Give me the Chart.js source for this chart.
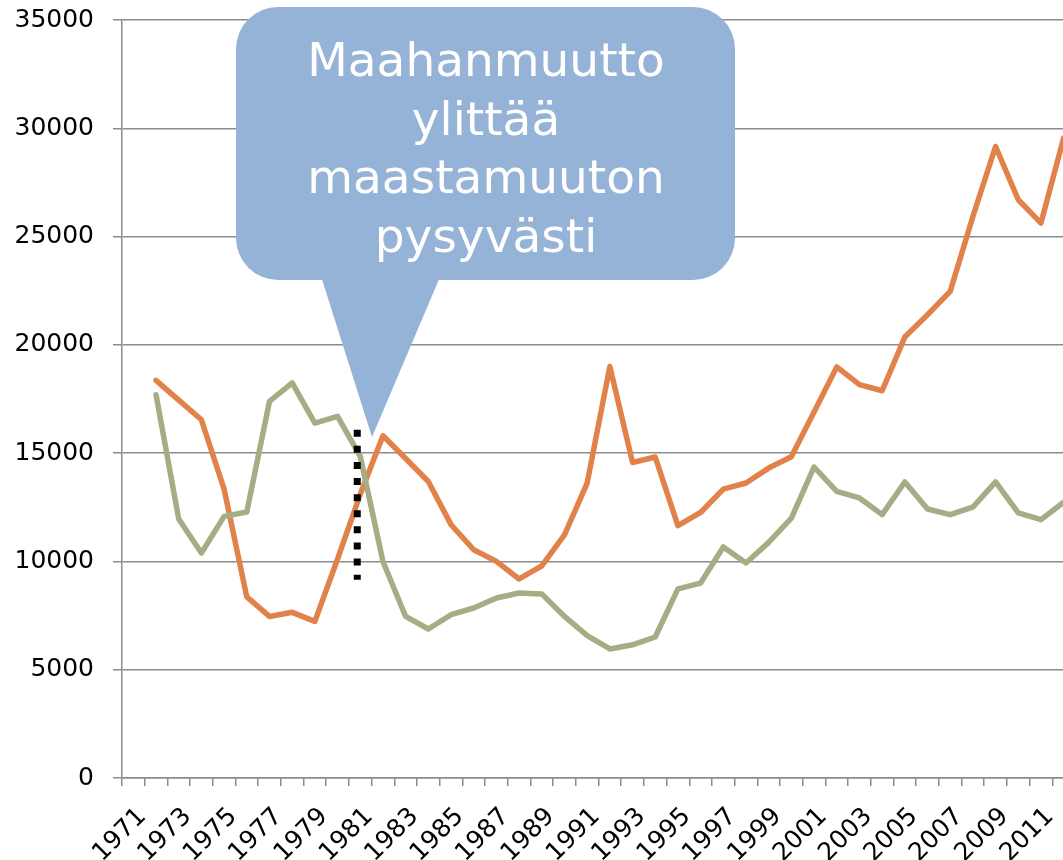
<!DOCTYPE html>
<html>
<head>
<meta charset="utf-8">
<script src="https://cdn.jsdelivr.net/npm/chart.js@4"></script>
<style>
  html, body { margin: 0; padding: 0; overflow: hidden; background: #fff; }
  #wrap { width: 1075px; height: 860px; }
  canvas { display: block; }
</style>
</head>
<body>
<div id="wrap"><canvas id="chart" width="1075" height="860"></canvas></div>
<script>
// vuodet 1971-2012 (1971 ilman arvoa)
const years = ['1971','1972','1973','1974','1975','1976','1977','1978','1979','1980',
  '1981','1982','1983','1984','1985','1986','1987','1988','1989','1990',
  '1991','1992','1993','1994','1995','1996','1997','1998','1999','2000',
  '2001','2002','2003','2004','2005','2006','2007','2008','2009','2010',
  '2011','2012']

// maahanmuutto (oranssi)
const maahanmuutto = [null, 18360, 17450, 16540, 13340, 8360, 7460, 7650, 7230, 10110,
  13100, 15800, 14750, 13690, 11700, 10540, 10000, 9190, 9800, 11230,
  13620, 19000, 14570, 14820, 11650, 12260, 13340, 13620, 14310, 14830,
  16900, 18980, 18160, 17880, 20360, 21390, 22470, 25930, 29160, 26700,
  25620, 29550]

// maastamuutto (vihreä)
const maastamuutto = [null, 17700, 11960, 10390, 12080, 12280, 17390, 18240, 16390, 16700,
  14850, 10000, 7460, 6880, 7540, 7850, 8310, 8540, 8500, 7460,
  6570, 5960, 6150, 6510, 8730, 9000, 10670, 9930, 10880, 12000,
  14360, 13230, 12930, 12160, 13670, 12420, 12160, 12510, 13670, 12240,
  11930, 12730]

const yTicks = [0, 5000, 10000, 15000, 20000, 25000, 30000, 35000]

// puhekupla + pisteviiva
const calloutLines = ['Maahanmuutto', 'ylittää', 'maastamuuton', 'pysyvästi']
const dotYear = '1981'
const dotTop = 16080
const dotBottom = 9150

const gridColor = '#8c8c8c'
const font = '"DejaVu Sans", Verdana, sans-serif'

const calloutPlugin = {
  id: 'callout',
  afterDraw(chart) {
    const ctx = chart.ctx
    const x = chart.scales.x
    const y = chart.scales.y

    // pisteviiva
    const dx = x.getPixelForValue(years.indexOf(dotYear)) - 3
    ctx.save()
    ctx.strokeStyle = '#000'
    ctx.lineWidth = 7
    ctx.setLineDash([7, 9.1])
    ctx.beginPath()
    ctx.moveTo(dx, y.getPixelForValue(dotTop))
    ctx.lineTo(dx, y.getPixelForValue(dotBottom))
    ctx.stroke()
    ctx.restore()

    // kupla
    const l = 236, t = 7, r = 735, b = 280, rad = 42
    ctx.save()
    ctx.fillStyle = '#95b3d7'
    ctx.beginPath()
    ctx.moveTo(l + rad, t)
    ctx.arcTo(r, t, r, b, rad)
    ctx.arcTo(r, b, l, b, rad)
    ctx.arcTo(l, b, l, t, rad)
    ctx.arcTo(l, t, r, t, rad)
    ctx.closePath()
    ctx.fill()
    ctx.beginPath()
    ctx.moveTo(319, 270)
    ctx.lineTo(443, 270)
    ctx.lineTo(372, 437)
    ctx.closePath()
    ctx.fill()

    ctx.fillStyle = '#fff'
    ctx.font = '47px ' + font
    ctx.textAlign = 'center'
    ctx.textBaseline = 'alphabetic'
    const base = [76, 135, 193, 252]
    calloutLines.forEach((s, i) => ctx.fillText(s, 486, base[i]))
    ctx.restore()
  }
}

const ctx = document.getElementById('chart').getContext('2d')
const myChart = new Chart(ctx, {
  type: 'line',
  data: {
    labels: years,
    datasets: [
      {
        label: 'Maastamuutto',
        data: maastamuutto,
        borderColor: '#a4ad84',
        borderWidth: 5.5,
        pointRadius: 0,
        tension: 0,
        borderJoinStyle: 'round',
        borderCapStyle: 'round'
      },
      {
        label: 'Maahanmuutto',
        data: maahanmuutto,
        borderColor: '#e0824a',
        borderWidth: 5.5,
        pointRadius: 0,
        tension: 0,
        borderJoinStyle: 'round',
        borderCapStyle: 'round'
      }
    ]
  },
  options: {
    responsive: false,
    animation: false,
    devicePixelRatio: 1,
    layout: { padding: { top: 20, right: 0, bottom: 0, left: 0 } },
    plugins: {
      legend: { display: false },
      tooltip: { enabled: false }
    },
    scales: {
      x: {
        offset: true,
        grid: {
          offset: true,
          drawOnChartArea: false,
          drawTicks: true,
          tickLength: 8,
          color: gridColor,
          lineWidth: 1.5
        },
        border: { color: gridColor, width: 1.5 },
        ticks: {
          autoSkip: false,
          maxRotation: 45,
          minRotation: 45,
          padding: 16,
          labelOffset: 9,
          color: '#000',
          font: { family: font, size: 25 },
          callback: function (v, i) {
            return i % 2 === 0 ? years[i] : ''
          }
        },
        afterFit: s => { s.height = 82; s.paddingLeft = 0; s.paddingRight = 0 }
      },
      y: {
        min: 0,
        max: 35000,
        afterBuildTicks: s => { s.ticks = yTicks.map(v => ({ value: v })) },
        grid: {
          color: gridColor,
          lineWidth: 1.5,
          tickLength: 9
        },
        border: { color: gridColor, width: 1.5 },
        ticks: {
          padding: 19,
          color: '#000',
          font: { family: font, size: 25 },
          callback: v => String(v)
        },
        afterFit: s => { s.width = 122; s.paddingTop = 0; s.paddingBottom = 0 }
      }
    }
  },
  plugins: [calloutPlugin]
})
</script>
</body>
</html>
